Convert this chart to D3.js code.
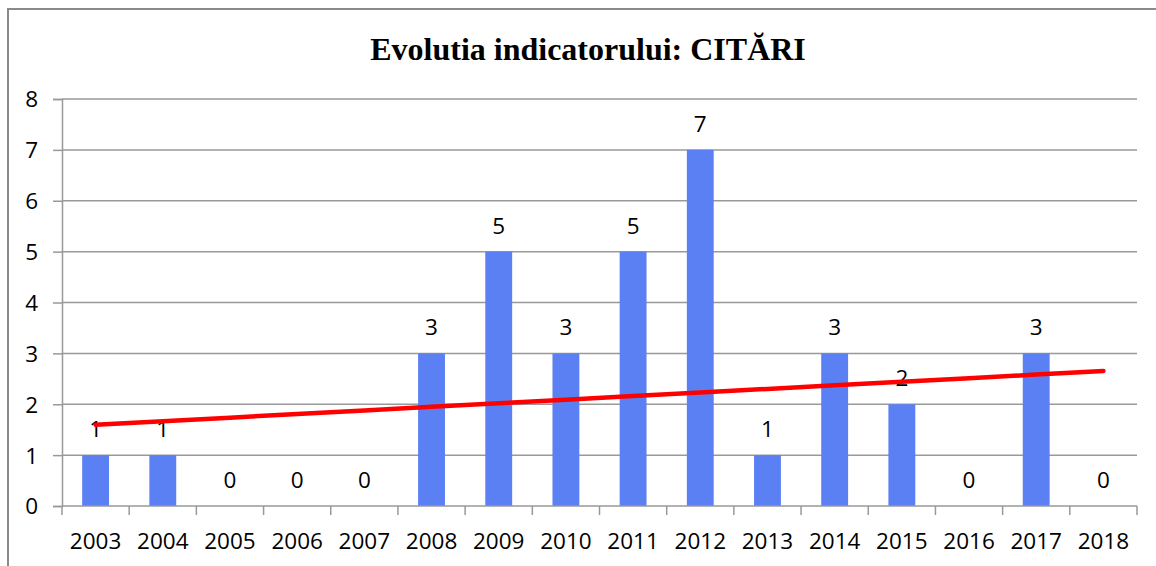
<!DOCTYPE html>
<html>
<head>
<meta charset="utf-8">
<script src="https://cdn.jsdelivr.net/npm/d3@7"></script>
<style>
  body { margin: 0; background: #fff; }
  svg text { font-family: "Open Sans", sans-serif; fill: #000; }
</style>
</head>
<body>
<svg id="main-svg" width="1156" height="566"></svg>
<script>
// chart data
const years = ['2003', '2004', '2005', '2006', '2007', '2008', '2009', '2010',
    '2011', '2012', '2013', '2014', '2015', '2016', '2017', '2018'];
const citari = [1, 1, 0, 0, 0, 3, 5, 3, 5, 7, 1, 3, 2, 0, 3, 0];
const yTicks = [0, 1, 2, 3, 4, 5, 6, 7, 8];
const title = 'Evolutia indicatorului: CITĂRI';

const svg = d3.select('#main-svg');

// outer chart frame (runs off the right and bottom edges)
svg.append('rect')
    .attr('x', 8).attr('y', 9)
    .attr('width', 1160).attr('height', 570)
    .attr('fill', 'none')
    .attr('stroke', '#8a8a8a')
    .attr('stroke-width', 2);

const margin = { left: 62, right: 1137, top: 99, bottom: 506 };

const x = d3.scaleBand()
    .domain(years)
    .range([margin.left, margin.right]);

const y = d3.scaleLinear()
    .domain([0, 8])
    .range([margin.bottom, margin.top]);

const xc = i => x(years[i]) + x.bandwidth() / 2;

// title
svg.append('text')
    .attr('x', 588).attr('y', 60)
    .attr('text-anchor', 'middle')
    .style('font-family', '"Liberation Serif", "Times New Roman", serif')
    .style('font-weight', 'bold')
    .style('font-size', '32px')
    .text(title);

// horizontal gridlines
svg.append('g')
    .selectAll('line')
    .data(yTicks.filter(d => d > 0))
    .enter()
    .append('line')
    .attr('x1', margin.left).attr('x2', margin.right)
    .attr('y1', d => y(d)).attr('y2', d => y(d))
    .attr('stroke', '#999')
    .attr('stroke-width', 1.5);

// y axis
const yAxis = svg.append('g')
    .attr('transform', `translate(${margin.left},0)`)
    .call(d3.axisLeft(y).tickValues(yTicks).tickSize(9).tickPadding(15).tickFormat(d3.format('d')));
yAxis.select('.domain').attr('stroke', '#999').attr('stroke-width', 1.5);
yAxis.selectAll('.tick line').attr('stroke', '#999').attr('stroke-width', 1.5);
yAxis.selectAll('.tick text')
    .style('font-size', '22.5px')
    .attr('dy', '0.35em');

// bars
svg.append('g')
    .selectAll('rect')
    .data(citari)
    .enter()
    .append('rect')
    .attr('x', (d, i) => x(years[i]) + x.bandwidth() * 0.3)
    .attr('width', x.bandwidth() * 0.4)
    .attr('y', d => y(d))
    .attr('height', d => y(0) - y(d))
    .attr('fill', '#5b80f4');

// x axis with ticks at band boundaries
const xAxisG = svg.append('g').attr('transform', `translate(0,${margin.bottom})`);
xAxisG.append('line')
    .attr('x1', margin.left).attr('x2', margin.right)
    .attr('stroke', '#999').attr('stroke-width', 1.5);
xAxisG.selectAll('.btick')
    .data(years.map(d => x(d)).concat([margin.right]))
    .enter()
    .append('line')
    .attr('x1', d => d).attr('x2', d => d)
    .attr('y1', 0).attr('y2', 9)
    .attr('stroke', '#999').attr('stroke-width', 1.5);
xAxisG.selectAll('.xlabel')
    .data(years)
    .enter()
    .append('text')
    .attr('x', (d, i) => xc(i))
    .attr('y', 43)
    .attr('text-anchor', 'middle')
    .style('font-size', '22.5px')
    .text(d => d);

// linear trendline (least squares over the series)
const n = citari.length;
const xs = d3.range(1, n + 1);
const mx = d3.mean(xs), my = d3.mean(citari);
const slope = d3.sum(xs, (v, i) => (v - mx) * (citari[i] - my)) / d3.sum(xs, v => (v - mx) ** 2);
const trend = xs.map(v => my + slope * (v - mx));

// data labels
svg.append('g')
    .selectAll('text')
    .data(citari)
    .enter()
    .append('text')
    .attr('x', (d, i) => xc(i))
    .attr('y', d => y(d) - 18)
    .attr('text-anchor', 'middle')
    .style('font-size', '22.5px')
    .text(d => d);

const line = d3.line()
    .x((d, i) => xc(i))
    .y(d => y(d));

svg.append('path')
    .datum(trend)
    .attr('d', line)
    .attr('fill', 'none')
    .attr('stroke', '#ff0000')
    .attr('stroke-width', 4.5)
    .attr('stroke-linecap', 'round');
</script>
</body>
</html>
